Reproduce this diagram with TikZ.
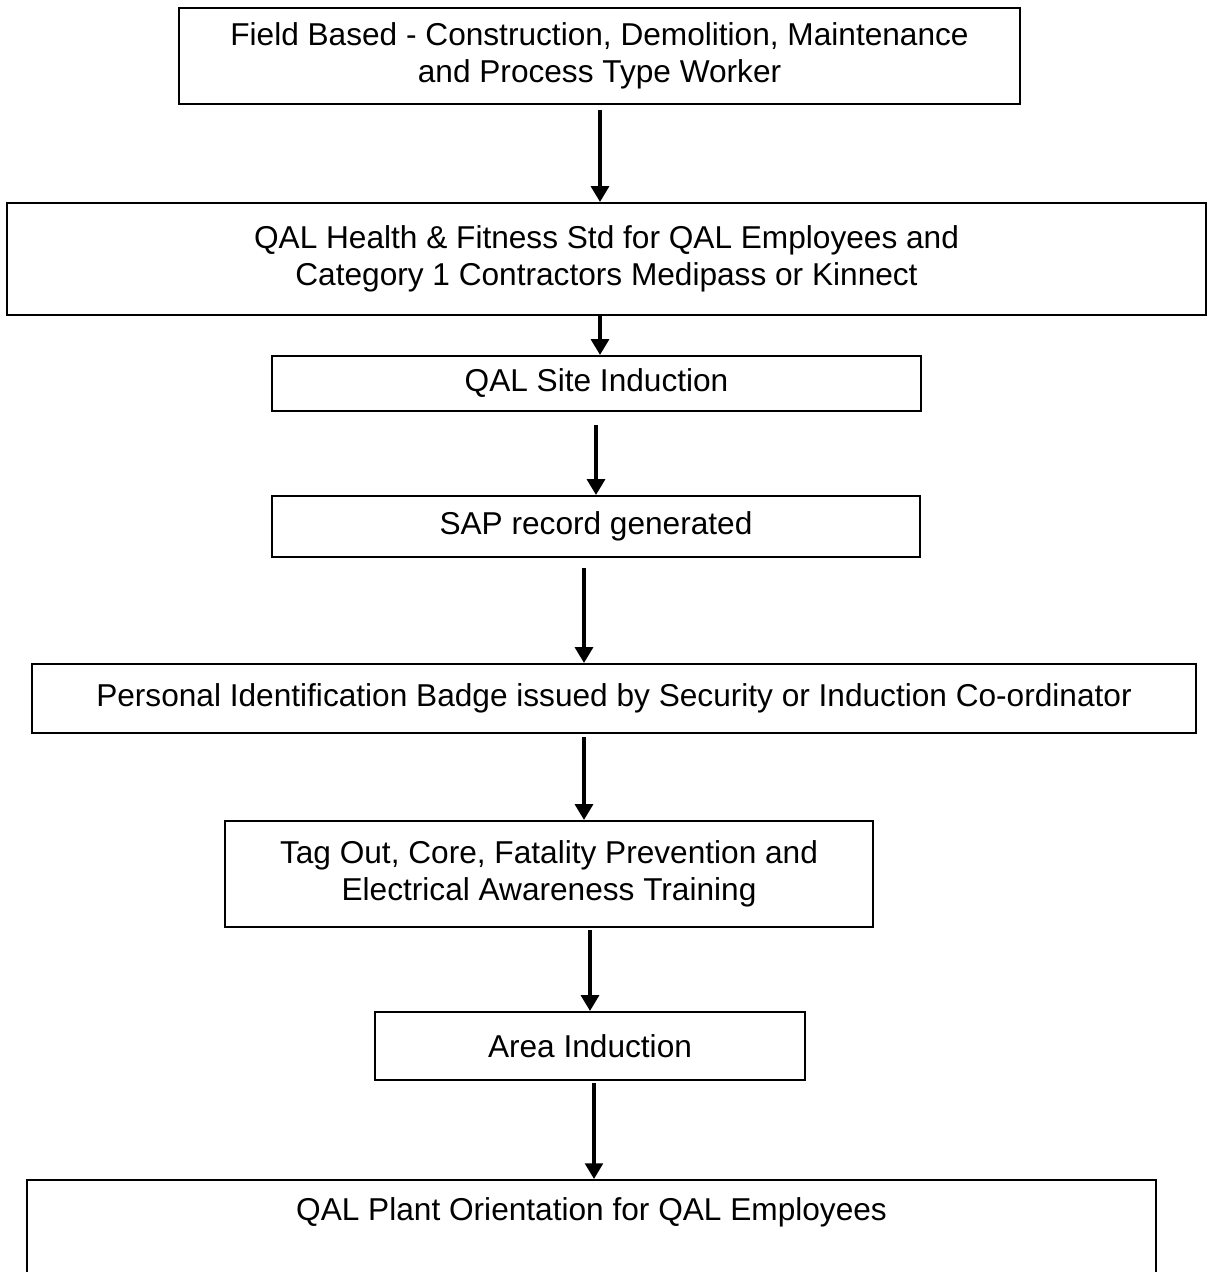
\documentclass[tikz,border=0pt]{standalone}
\usepackage{fontspec}
\setmainfont{Liberation Sans}
\usetikzlibrary{arrows.meta}
\tikzset{
  stage/.style={draw, line width=1.1pt, inner sep=0pt, align=center, font=\fontsize{18}{21}\selectfont},
  flow/.style={line width=2.4pt, -{Triangle[length=9pt,width=10pt]}}
}
\begin{document}
\begin{tikzpicture}[x=0.02cm, y=-0.02cm]
			%%%%% START %%%%%
			\clip (0, 0) rectangle (1207, 1272);
			
			\node[stage, minimum width=16.82cm, minimum height=1.92cm] (field) at (599.5, 56) {Field Based - Construction, Demolition, Maintenance\\and Process Type Worker};
			\node[stage, minimum width=23.98cm, minimum height=2.24cm] (health) at (606.5, 259) {QAL Health \& Fitness Std for QAL Employees and\\Category 1 Contractors Medipass or Kinnect};
			\node[stage, minimum width=12.98cm, minimum height=1.1cm] (site) at (596.5, 383.5) {QAL Site Induction};
			\node[stage, minimum width=12.96cm, minimum height=1.22cm] (sap) at (596, 526.5) {SAP record generated};
			\node[stage, minimum width=23.28cm, minimum height=1.38cm] (badge) at (614, 698.5) {Personal Identification Badge issued by Security or Induction Co-ordinator};
			\node[stage, minimum width=12.96cm, minimum height=2.12cm] (training) at (549, 874) {Tag Out, Core, Fatality Prevention and\\Electrical Awareness Training};
			\node[stage, minimum width=8.6cm, minimum height=1.36cm] (area) at (590, 1046) {Area Induction};
			\node[stage, minimum width=22.58cm, minimum height=4cm] (plant) at (591.5, 1280) {};
			\node[stage, draw=none] (planttext) at (591.5, 1212) {QAL Plant Orientation for QAL Employees};
			
			\coordinate (a1) at (600, 110);
			\coordinate (a2) at (600, 315);
			\coordinate (a3) at (596, 425);
			\coordinate (a4) at (584, 568);
			\coordinate (a5) at (584, 737);
			\coordinate (a6) at (590, 930);
			\coordinate (a7) at (594, 1083);
			
			\draw[flow] (a1) -- (a1 |- health.north);
			\draw[flow] (a2) -- (a2 |- site.north);
			\draw[flow] (a3) -- (a3 |- sap.north);
			\draw[flow] (a4) -- (a4 |- badge.north);
			\draw[flow] (a5) -- (a5 |- training.north);
			\draw[flow] (a6) -- (a6 |- area.north);
			\draw[flow] (a7) -- (a7 |- plant.north);
			
			%%%%% END %%%%%
\end{tikzpicture}
\end{document}
